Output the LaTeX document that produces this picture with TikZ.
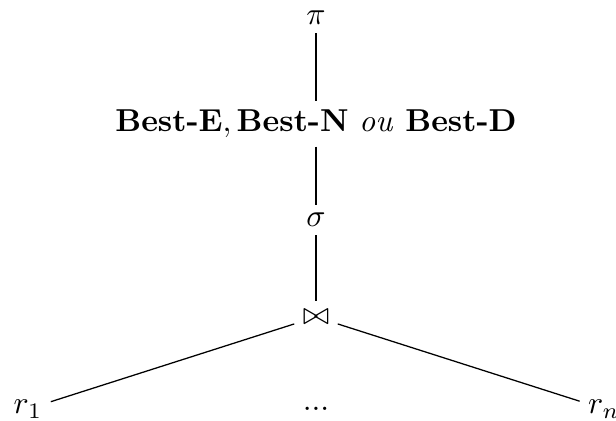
\documentclass[tikz,border=0pt]{standalone}
\usepackage{amssymb}
\begin{document}
\begin{tikzpicture}[x=0.3155pt,y=-0.3155pt,
  lbl/.style={inner sep=2.5pt},
  link/.style={draw=black,line width=0.4pt}]
\useasboundingbox (0,0) rectangle (616,421);
\node[lbl] (pi) at (316,18) {$\pi$};
\node[lbl] (best) at (316,124) {$\textbf{Best-E}, \textbf{Best-N}\ \mathit{ou}\ \textbf{Best-D}$};
\node[lbl] (sigma) at (316,220) {$\sigma$};
\node[lbl] (join) at (316,317) {$\bowtie$};
\node[lbl] (r1) at (28,409) {$r_1$};
\node[lbl] (dots) at (316,409) {...};
\node[lbl] (rn) at (604,409) {$r_n$};
\draw[link] (pi) -- (best);
\draw[link] (best) -- (sigma);
\draw[link] (sigma) -- (join);
\draw[link] (join) -- (r1);
\draw[link] (join) -- (rn);
\end{tikzpicture}
\end{document}
